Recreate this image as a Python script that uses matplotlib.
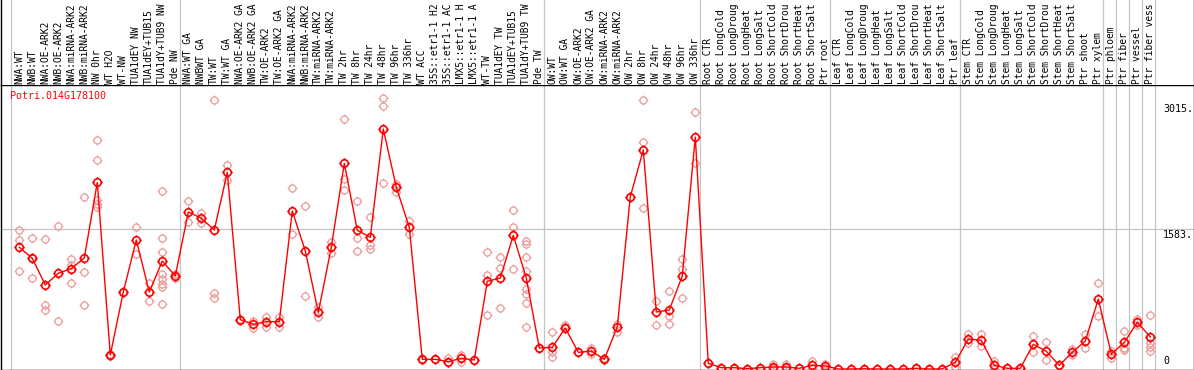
import matplotlib
matplotlib.use('Agg')
import matplotlib.pyplot as plt
from matplotlib.path import Path
import numpy as np

gene = 'Potri.014G178100'

labels = [
    'NWA:WT', 'NWB:WT', 'NWA:OE-ARK2', 'NWB:OE-ARK2', 'NWA:miRNA-ARK2',
    'NWB:miRNA-ARK2', 'NW 0hr', 'WT H2O', 'WT-NW', 'TUA1dEY NW',
    'TUA1dEY+TUB15 NW', 'TUA1dY+TUB9 NW', 'Pde NW',
    'NWA:WT GA', 'NWBWT GA', 'TW:WT', 'TW:WT GA', 'NWA:OE-ARK2 GA',
    'NWB:OE-ARK2 GA', 'TW:OE-ARK2', 'TW:OE-ARK2 GA', 'NWA:miRNA-ARK2 GA',
    'NWB:miRNA-ARK2 GA', 'TW:miRNA-ARK2', 'TW:miRNA-ARK2 GA', 'TW 2hr',
    'TW 8hr', 'TW 24hr', 'TW 48hr', 'TW 96hr', 'TW 336hr', 'WT ACC',
    '35S::etr1-1 H2O', '35S::etr1-1 ACC', 'LMX5::etr1-1 H2O',
    'LMX5::etr1-1 ACC', 'WT-TW', 'TUA1dEY TW', 'TUA1dEY+TUB15 TW',
    'TUA1dY+TUB9 TW', 'Pde TW',
    'OW:WT', 'OW:WT GA', 'OW:OE-ARK2', 'OW:OE-ARK2 GA', 'OW:miRNA-ARK2',
    'OW:miRNA-ARK2 GA', 'OW 2hr', 'OW 8hr', 'OW 24hr', 'OW 48hr', 'OW 96hr',
    'OW 336hr',
    'Root CTR', 'Root LongCold', 'Root LongDrought', 'Root LongHeat',
    'Root LongSalt', 'Root ShortCold', 'Root ShortDrought', 'Root ShortHeat',
    'Root ShortSalt', 'Ptr root',
    'Leaf CTR', 'Leaf LongCold', 'Leaf LongDrought', 'Leaf LongHeat',
    'Leaf LongSalt', 'Leaf ShortCold', 'Leaf ShortDrought', 'Leaf ShortHeat',
    'Leaf ShortSalt', 'Ptr leaf',
    'Stem CTR', 'Stem LongCold', 'Stem LongDrought', 'Stem LongHeat',
    'Stem LongSalt', 'Stem ShortCold', 'Stem ShortDrought', 'Stem ShortHeat',
    'Stem ShortSalt', 'Ptr shoot', 'Ptr xylem',
    'Ptr phloem', 'Ptr fiber', 'Ptr vessel', 'Ptr fiber vessel',
]

# first index of each sample group
group_starts = [0, 13, 41, 53, 63, 73, 84, 85, 86, 87, 88]

means = [
    1375, 1251, 949, 1081, 1134, 1254, 2109, 158, 870, 1458, 870, 1220, 1051,
    1774, 1703, 1571, 2222, 557, 505, 535, 535, 1785, 1333, 640, 1375, 2324,
    1567, 1488, 2712, 2053, 1601, 109, 109, 83, 120, 102, 991, 1028, 1510,
    1028, 237,
    245, 463, 188, 203, 109, 478, 1947, 2475, 644, 667, 1051, 2621,
    64, 15, 15, 4, 15, 23, 23, 8, 41, 34,
    0, 0, 4, 0, 0, 0, 8, 0, 2, 75,
    339, 324, 41, 8, 8, 279, 200, 41, 188, 316, 791,
    169, 301, 527, 362,
]

replicates = [
    [1567, 1458, 1107], [1477, 1251, 1025], [1466, 723, 663], [1612, 539],
    [1243, 1175, 968], [1940, 1092, 720], [2588, 2358, 1910, 1860, 1834],
    [165, 150], [870], [1601, 1296], [972, 768],
    [2008, 1477, 1326, 1070, 1014, 957, 923, 734], [1032, 1070],
    [1898, 1664], [1759, 1646], [3036, 855, 799], [2305, 2136], [565, 550],
    [540, 467], [591, 480], [591, 480], [2042, 1522], [1838, 825], [704, 591],
    [1439, 1314], [2821, 2143, 2019], [1895, 1484, 1333], [1714, 1401, 1352],
    [3059, 2968, 2098], [2094, 1997], [1672, 1522], [115, 105], [109],
    [120, 83], [158, 83], [102], [1318, 1058, 610], [1262, 1141, 689],
    [1793, 1601, 1126], [1450, 1412, 1269, 1107, 904, 847, 742, 471], [237],
    [418, 196, 136], [497, 470], [188], [241, 170], [120, 100], [512, 422],
    [1947], [3040, 2561, 1815], [768, 497], [878, 603, 508],
    [1243, 1126, 802], [2900, 2324],
    [64], [15], [15], [4], [15], [60, 10], [56, 10], [8], [87, 10], [56, 15],
    [0], [0], [4], [0], [0], [0], [8], [0], [2], [132, 20],
    [392, 290], [399, 260], [87, 5], [8], [8], [373, 192], [305, 102], [41],
    [222, 160], [399, 234], [972, 595],
    [128, 200], [426, 241, 211], [561, 500], [606, 297, 252, 207],
]

ytick_values = [3015, 1583, 0]
ytick_labels = ['3015.', '1583.', '0']

RED = '#ff0000'
PINK = '#ec9a9a'
GRID = '#c4c4c4'
MONO = 'DejaVu Sans Mono'
LABEL_CHARS = 14  # the label column only fits this many characters

# circle with four little ticks, like the original marker
ticks = []
for a in range(4):
    ang = a * np.pi / 2
    ticks.append(Path([(0.72 * np.cos(ang), 0.72 * np.sin(ang)),
                       (np.cos(ang), np.sin(ang))]))
circ = Path.unit_circle()
circ = Path(circ.vertices * 0.72, circ.codes)
tick_marker = Path.make_compound_path(circ, *ticks)

W, H = 1194, 370
fig = plt.figure(figsize=(W / 100, H / 100), dpi=100)

xlim = ((0.5 - 19.3) / 13, (1193.5 - 19.3) / 13)
ax = fig.add_axes([0.5 / W, 0.5 / H, 1193 / W, 284.5 / H])
ax_top = fig.add_axes([0.5 / W, 285 / H, 1193 / W, 85 / H])

x = np.arange(len(labels))

ax.set_xlim(xlim)
ax.set_ylim(-5.65, 3209)
for b in group_starts:
    ax.axvline(b - 0.62, color=GRID, lw=0.9, zorder=1)
    ax_top.axvline(b - 0.62, color=GRID, lw=0.9, zorder=1)
ax.axhline(ytick_values[1], color=GRID, lw=0.9, zorder=1)

for i, reps in enumerate(replicates):
    ax.plot([i] * len(reps), reps, linestyle='none', marker=tick_marker,
            ms=7, mfc='none', mec=PINK, mew=0.9, zorder=2)

ax.plot(x, means, color=RED, lw=1.0, zorder=3)
ax.plot(x, means, linestyle='none', marker=tick_marker, ms=7.5,
        mfc='none', mec=RED, mew=1.2, zorder=4)

ax.set_xticks([])
ax.set_yticks([])
for s in ax.spines.values():
    s.set_linewidth(1.0)
    s.set_color('black')

ax.text(9.3 / 1193, 0.978, gene, transform=ax.transAxes, color=RED,
        family=MONO, fontsize=7.2, ha='left', va='top')

xt = (1163 - 0.5) / 1193
ax.annotate(ytick_labels[0], (xt, ytick_values[0]),
            xycoords=('axes fraction', 'data'), xytext=(0, -1.2),
            textcoords='offset points', family=MONO, fontsize=7.2,
            ha='left', va='top')
ax.annotate(ytick_labels[1], (xt, ytick_values[1]),
            xycoords=('axes fraction', 'data'), xytext=(0, -0.5),
            textcoords='offset points', family=MONO, fontsize=7.2,
            ha='left', va='top')
ax.annotate(ytick_labels[2], (xt, ytick_values[2]),
            xycoords=('axes fraction', 'data'), xytext=(0, 2.2),
            textcoords='offset points', family=MONO, fontsize=7.2,
            ha='left', va='bottom')

ax_top.set_xlim(xlim)
ax_top.set_ylim(85, 0)
ax_top.set_xticks([])
ax_top.set_yticks([])
ax_top.spines['top'].set_visible(False)
ax_top.spines['bottom'].set_visible(False)
for side in ['left', 'right']:
    ax_top.spines[side].set_linewidth(1.0)
for i, lab in enumerate(labels):
    ax_top.text(i, 83.5, lab[:LABEL_CHARS].rstrip(), rotation=90,
                family=MONO, fontsize=6.95, ha='center', va='bottom')

fig.savefig('out.png', dpi=100)
